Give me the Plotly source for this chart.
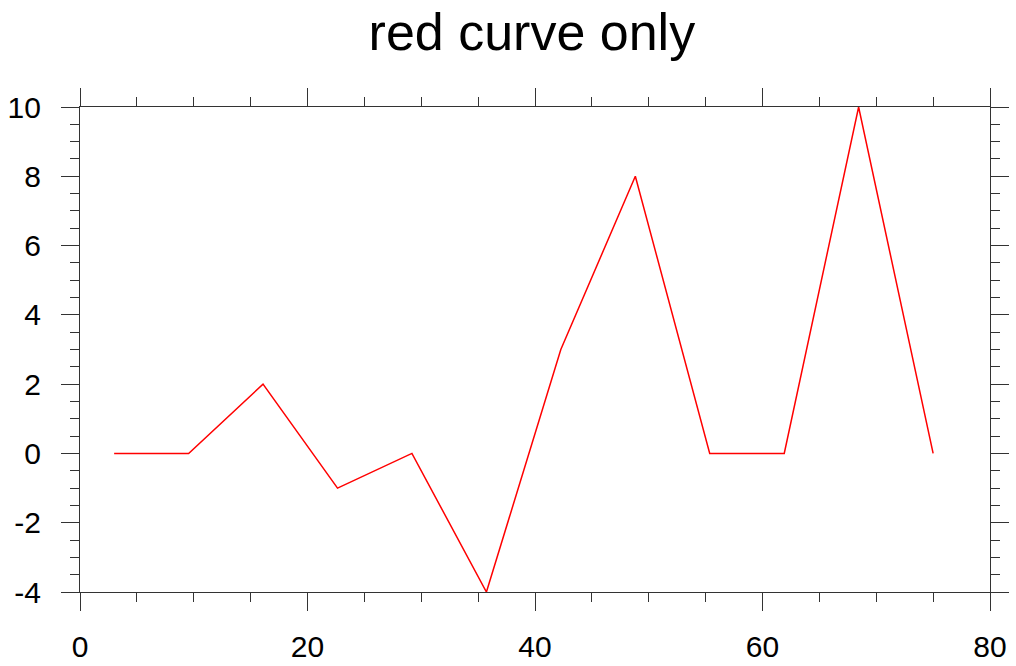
import plotly.graph_objects as go

x_vals = [3, 9.55, 16.09, 22.64, 29.18, 35.73, 42.27, 48.82, 55.36, 61.91, 68.45, 75]
y_vals = [0, 0, 2, -1, 0, -4, 3, 8, 0, 0, 10, 0]
x_ticks = [0, 20, 40, 60, 80]
y_ticks = [-4, -2, 0, 2, 4, 6, 8, 10]
title_text = "red curve only"

fig = go.Figure()
fig.add_trace(go.Scatter(x=x_vals, y=y_vals, mode="lines",
                         line=dict(color="red", width=1.5), showlegend=False))

axis_common = dict(
    showgrid=False, zeroline=False, showline=True, linecolor="#333", linewidth=1.2,
    mirror="ticks", ticks="outside", ticklen=18, tickwidth=1.2, tickcolor="#333",
    automargin=False,
    tickfont=dict(family="Liberation Sans, Arial, sans-serif", size=30, color="black"),
)

fig.update_layout(
    width=1016, height=666,
    margin=dict(l=80, r=26, t=107, b=74),
    paper_bgcolor="white", plot_bgcolor="white",
    title=dict(text=title_text, x=0.5235, xanchor="center", y=1 - 50/666, yanchor="bottom",
               font=dict(family="Liberation Sans, Arial, sans-serif", size=52, color="black")),
    xaxis=dict(range=[0, 80], tickvals=x_ticks, ticktext=[str(v) for v in x_ticks],
               minor=dict(dtick=5, ticklen=9, ticks="outside", tickcolor="#333", tickwidth=1),
               ticklabelstandoff=10, **axis_common),
    yaxis=dict(range=[-4, 10], tickvals=y_ticks, ticktext=[str(v) for v in y_ticks],
               minor=dict(dtick=0.5, ticklen=9, ticks="outside", tickcolor="#333", tickwidth=1),
               ticklabelstandoff=14, **axis_common),
)

fig.write_html("out.html", config={"displayModeBar": False},
               post_script="document.body.style.margin='0';document.body.style.overflow='hidden';")
